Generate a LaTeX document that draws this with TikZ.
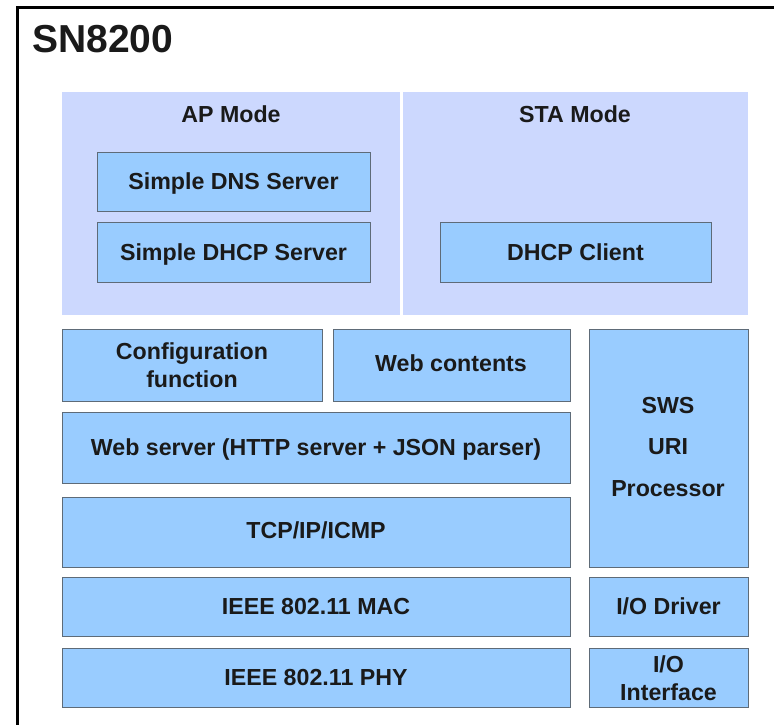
\documentclass[tikz,border=0pt]{standalone}
\usepackage{fontspec}
\setmainfont{Liberation Sans}
\definecolor{panelfill}{HTML}{CCD8FE}
\definecolor{boxfill}{HTML}{99CCFF}
\definecolor{boxline}{HTML}{5E6B78}
\definecolor{txt}{HTML}{1A1A1A}
\begin{document}
\begin{tikzpicture}[x=1pt,y=-1pt,
  panel/.style={fill=panelfill,draw=none,inner sep=0pt,anchor=north west},
  blk/.style={fill=boxfill,draw=boxline,line width=0.9pt,inner sep=0pt,align=center,
    text=txt,font=\fontsize{23.2}{28}\selectfont\bfseries},
  oneline/.style={text height=16.6pt,text depth=0pt},
  lbl/.style={text=txt,font=\fontsize{23.2}{26}\selectfont\bfseries,inner sep=0pt,oneline}]
\useasboundingbox (0,0) rectangle (774,725);
\fill[white] (0,0) rectangle (774,725);
% frame
\draw[line width=2.2pt] (17.5,726) -- (17.5,7.5) -- (775,7.5);
\node[anchor=base west,inner sep=0pt,text=txt,font=\fontsize{39}{42}\selectfont\bfseries] (title) at (32,53) {SN8200};
% mode panels
\node[panel,minimum width=338pt,minimum height=223pt] (ap) at (62,92) {};
\node[panel,minimum width=345pt,minimum height=223pt] (sta) at (403,92) {};
\node[lbl] (aplbl) at (231,114) {AP Mode};
\node[lbl] (stalbl) at (575,114) {STA Mode};
\node[blk,oneline,minimum width=273pt,minimum height=59pt] (dns) at (233.5,181.5) {Simple DNS Server};
\node[blk,oneline,minimum width=273pt,minimum height=60pt] (dhcps) at (233.5,252) {Simple DHCP Server};
\node[blk,oneline,minimum width=271pt,minimum height=60pt] (dhcpc) at (575.5,252) {DHCP Client};
% stack
\node[blk,minimum width=260pt,minimum height=72pt] (conf) at (192,365) {Configuration\\function};
\node[blk,minimum width=237pt,minimum height=72pt] (web) at (451.5,365) {};
\node[lbl] (webt) at (451,363.5) {Web contents};
\node[blk,oneline,minimum width=508pt,minimum height=71pt] (ws) at (316,447.5) {Web server (HTTP server + JSON parser)};
\node[blk,minimum width=508pt,minimum height=70pt] (tcp) at (316,532) {};
\node[lbl] (tcpt) at (316,530.5) {TCP/IP/ICMP};
\node[blk,minimum width=159pt,minimum height=238pt] (sws) at (668.5,448) {};
\node[blk,draw=none,fill=none,font=\fontsize{23.2}{41.5}\selectfont\bfseries] (swst) at (668,447) {SWS\\URI\\Processor};
\node[blk,oneline,minimum width=508pt,minimum height=59pt] (mac) at (316,606.5) {IEEE 802.11 MAC};
\node[blk,oneline,minimum width=508pt,minimum height=59pt] (phy) at (316,677.5) {IEEE 802.11 PHY};
\node[blk,oneline,minimum width=159pt,minimum height=59pt] (iod) at (668.5,606.5) {I/O Driver};
\node[blk,minimum width=159pt,minimum height=59pt] (ioi) at (668.5,678) {I/O\\Interface};
\end{tikzpicture}
\end{document}
